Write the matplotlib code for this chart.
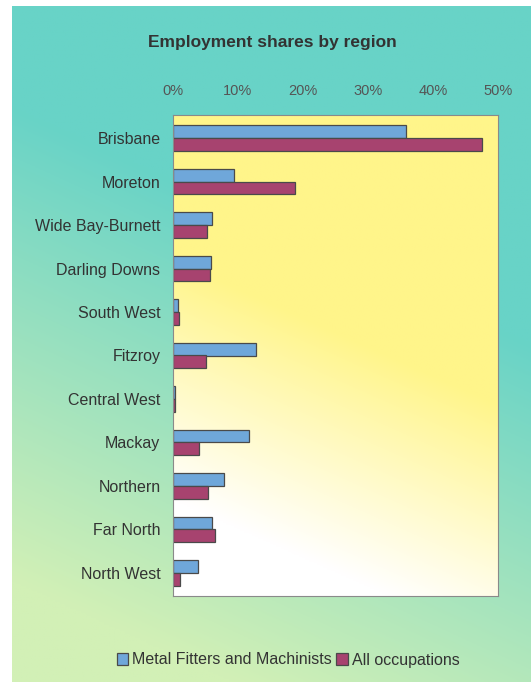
import numpy as np
import matplotlib
matplotlib.use("Agg")
import matplotlib.pyplot as plt
from matplotlib.patches import Patch

plt.rcParams['font.family'] = ['Liberation Sans', 'DejaVu Sans']

# ── Data ──
regions = ['Brisbane', 'Moreton', 'Wide Bay-Burnett', 'Darling Downs', 'South West',
           'Fitzroy', 'Central West', 'Mackay', 'Northern', 'Far North', 'North West']
metal_fitters = [35.8, 9.4, 6.0, 5.8, 0.8, 12.7, 0.3, 11.7, 7.9, 6.0, 3.8]
all_occupations = [47.5, 18.8, 5.3, 5.7, 0.9, 5.0, 0.3, 4.0, 5.4, 6.4, 1.1]
x_ticks = [0, 10, 20, 30, 40, 50]

BLUE = '#6fa7da'
MAGENTA = '#a7436f'
EDGE = '#4a4a4a'
TEXT = '#333333'


def gradient(c_start, c_end, wx, start, span, nx=200, ny=300):
    """Mostly vertical blend (row 0 = top), tilted so the top-right keeps c_start longest."""
    c0 = np.array(matplotlib.colors.to_rgb(c_start))
    c1 = np.array(matplotlib.colors.to_rgb(c_end))
    xx, yy = np.meshgrid(np.linspace(0, 1, nx), np.linspace(0, 1, ny))
    t = np.clip((yy + wx * (1 - xx) - start) / span, 0, 1)
    return c0 + (c1 - c0) * t[..., None]


def gradient_axes(fig, rect, img, zorder):
    gax = fig.add_axes(rect, zorder=zorder)
    gax.imshow(img, extent=[0, 1, 0, 1], aspect='auto', origin='upper')
    gax.set_xlim(0, 1)
    gax.set_ylim(0, 1)
    gax.axis('off')
    return gax


fig = plt.figure(figsize=(5.31, 6.82), dpi=100)
fig.patch.set_facecolor('white')

# ── Outer panel background ──
gradient_axes(fig, [12 / 531, 0, 1 - 12 / 531, 1 - 6 / 682],
              gradient('#68d3c7', '#d2f0b6', wx=0.35, start=0.5, span=0.7), -3)

# ── Plot area background ──
rect = [173 / 531, 1 - 596 / 682, (498 - 173) / 531, (596 - 115) / 682]
gradient_axes(fig, rect, gradient('#fff58a', '#ffffff', wx=0.3, start=0.6, span=0.5), -2)

# ── Main axes ──
ax = fig.add_axes(rect)
ax.patch.set_visible(False)

y = np.arange(len(regions))
h = 0.29
ax.barh(y - h / 2, metal_fitters, height=h, color=BLUE, edgecolor=EDGE,
        linewidth=0.9, zorder=2, label='Metal Fitters and Machinists')
ax.barh(y + h / 2, all_occupations, height=h, color=MAGENTA, edgecolor=EDGE,
        linewidth=0.9, zorder=2, label='All occupations')

ax.set_xlim(0, 50)
ax.set_ylim(len(regions) - 0.47, -0.53)
ax.set_yticks(y)
ax.set_yticklabels(regions, fontsize=11.5, color=TEXT)
ax.set_xticks(x_ticks)
ax.set_xticklabels([f'{t}%' for t in x_ticks], fontsize=10.5, color='#555555')
ax.xaxis.tick_top()
ax.tick_params(axis='x', length=0, pad=12)
ax.tick_params(axis='y', length=0, pad=9)
for s in ax.spines.values():
    s.set_color('#8a8a8a')
    s.set_linewidth(0.8)

fig.text(272 / 531, 1 - 42 / 682, 'Employment shares by region', ha='center',
         va='center', fontsize=12.5, fontweight='bold', color=TEXT)

handles = [Patch(facecolor=BLUE, edgecolor=EDGE, linewidth=0.9),
           Patch(facecolor=MAGENTA, edgecolor=EDGE, linewidth=0.9)]
fig.legend(handles, ['Metal Fitters and Machinists', 'All occupations'],
           loc='center', bbox_to_anchor=(288 / 531, 1 - 660 / 682), ncol=2,
           frameon=False, fontsize=11.5, handlelength=0.7, handleheight=0.7,
           handletextpad=0.25, columnspacing=0.3, labelcolor=TEXT)

fig.savefig('out.png', dpi=100)
